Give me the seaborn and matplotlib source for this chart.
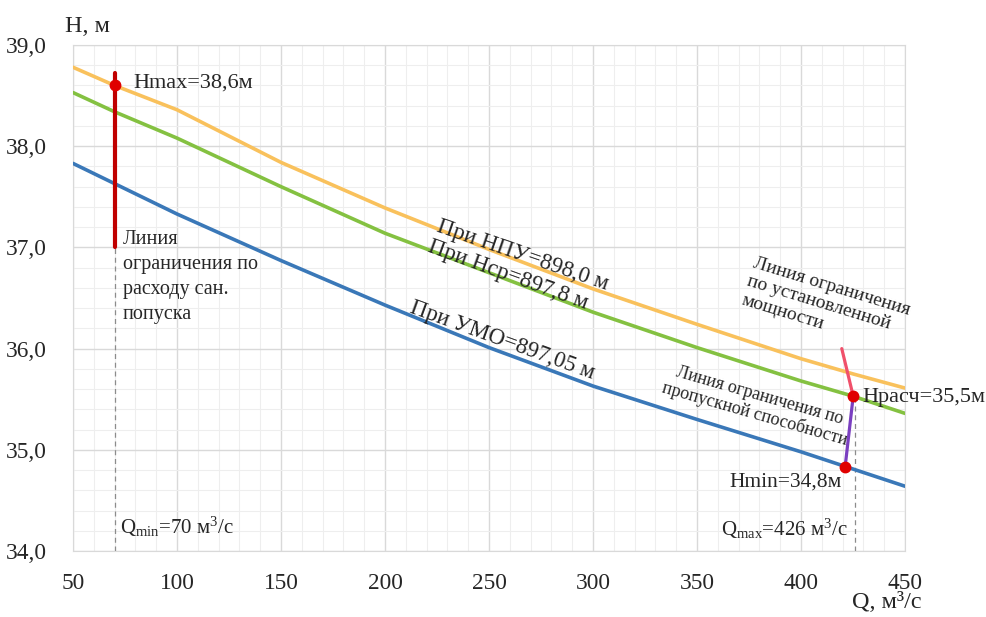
import numpy as np
import pandas as pd
import matplotlib
matplotlib.use("Agg")
import matplotlib.pyplot as plt
from matplotlib.ticker import MultipleLocator, FixedLocator
import seaborn as sns

# ---- data ----
q_points = [50, 70, 100, 150, 200, 250, 300, 350, 400, 425, 450]
h_npu = [38.78, 38.60, 38.36, 37.84, 37.39, 36.98, 36.59, 36.24, 35.90, 35.75, 35.61]
h_sr = [38.53, 38.34, 38.08, 37.60, 37.14, 36.75, 36.36, 36.01, 35.68, 35.53, 35.36]
h_umo = [37.83, 37.63, 37.33, 36.87, 36.43, 36.01, 35.63, 35.30, 34.98, 34.81, 34.64]
series_names = ["При НПУ=898,0 м", "При Нср=897,8 м", "При УМО=897,05 м"]
series_colors = ["#F9C15C", "#84C141", "#3A78B8"]

q_min = 70
h_max = 38.6
san_line_top = 38.72
san_line_bottom = 37.0
q_max = 426
h_calc = 35.53
h_min = 34.8
q_hmin = 421.2
power_line_q = [419.6, 425.1]
power_line_h = [36.0, 35.53]

x_ticks = [50, 100, 150, 200, 250, 300, 350, 400, 450]
y_ticks = [34.0, 35.0, 36.0, 37.0, 38.0, 39.0]
y_tick_labels = ["34,0", "35,0", "36,0", "37,0", "38,0", "39,0"]

# ---- style ----
sns.set_style("white")
plt.rcParams["font.family"] = ["Liberation Serif", "DejaVu Serif"]
plt.rcParams["mathtext.fontset"] = "custom"
plt.rcParams["mathtext.rm"] = "Liberation Serif"
plt.rcParams["mathtext.it"] = "Liberation Serif:italic"

df = pd.DataFrame({
    "Q": q_points * 3,
    "H": h_npu + h_sr + h_umo,
    "series": sum([[n] * len(q_points) for n in series_names], []),
})

fig = plt.figure(figsize=(9.86, 6.17), dpi=100)
ax = fig.add_axes([73 / 986, 66 / 617, 832 / 986, 506 / 617])

sns.lineplot(data=df, x="Q", y="H", hue="series", palette=series_colors,
             hue_order=series_names, linewidth=2.6, legend=False, ax=ax, zorder=3)
for ln in ax.lines:
    ln.set_solid_joinstyle("round")

ax.set_xlim(50, 450)
ax.set_ylim(34, 39)
ax.xaxis.set_major_locator(FixedLocator(x_ticks))
ax.yaxis.set_major_locator(FixedLocator(y_ticks))
ax.set_yticklabels(y_tick_labels)
ax.xaxis.set_minor_locator(MultipleLocator(10))
ax.yaxis.set_minor_locator(MultipleLocator(0.2))
ax.grid(True, which="major", color="#D9D9D9", linewidth=1.0, zorder=0)
ax.grid(True, which="minor", color="#EEEEEE", linewidth=0.8, zorder=0)
ax.set_axisbelow(True)
ax.tick_params(which="both", length=0, labelsize=16.8)
ax.tick_params(axis="x", pad=16)
ax.tick_params(axis="y", pad=19)
for s in ax.spines.values():
    s.set_color("#D9D9D9")
ax.set_xlabel("")
ax.set_ylabel("")

# sanitary release restriction line
ax.plot([q_min, q_min], [san_line_bottom, san_line_top], color="#C00000", lw=3.0, zorder=4)
ax.plot([q_min, q_min], [34, san_line_bottom], color="#8C8C8C", lw=0.9, ls=(0, (4, 3)), zorder=2)
ax.plot([q_min], [h_max], marker="o", ms=7.5, color="#E00000", zorder=5)

# Qmax dashed line
ax.plot([q_max, q_max], [34, h_calc], color="#8C8C8C", lw=0.9, ls=(0, (4, 3)), zorder=2)
# installed power line
ax.plot(power_line_q, power_line_h, color="#F0506A", lw=2.3, zorder=4)
# throughput line
ax.plot([power_line_q[1], q_hmin], [h_calc, h_min + 0.03], color="#7A3FC0", lw=2.3, zorder=4)
ax.plot([power_line_q[1]], [h_calc], marker="o", ms=7.5, color="#E00000", zorder=5)
ax.plot([q_hmin], [h_min + 0.03], marker="o", ms=7.5, color="#E00000", zorder=5)

# texts
ax.text(78.8, 38.62, "Hmax=38,6м", fontsize=16, ha="left", va="center")
ax.text(74.0, 37.17, "Линия\nограничения по\nрасходу сан.\nпопуска", fontsize=14.5,
        ha="left", va="top", linespacing=1.42)
ax.text(266.3, 36.92, series_names[0], fontsize=16.5, rotation=-19,
        rotation_mode="anchor", ha="center", va="center")
ax.text(259.1, 36.73, series_names[1], fontsize=16.5, rotation=-20,
        rotation_mode="anchor", ha="center", va="center")
ax.text(256.3, 36.08, series_names[2], fontsize=16.5, rotation=-20,
        rotation_mode="anchor", ha="center", va="center")
ax.text(412.0, 36.43, "Линия ограничения\nпо установленной\nмощности", fontsize=14,
        rotation=-17, rotation_mode="anchor", ha="center", va="center",
        multialignment="left", linespacing=1.2)
ax.text(378.8, 35.445, "Линия ограничения по\nпропускной способности", fontsize=13,
        rotation=-16, rotation_mode="anchor", ha="center", va="center",
        multialignment="center", linespacing=1.1)
ax.text(429.3, 35.515, "Hрасч=35,5м", fontsize=16, ha="left", va="center")
ax.text(419.7, 34.68, "Hmin=34,8м", fontsize=15.5, ha="right", va="center")
ax.text(72.6, 34.24, "Q$_{\\mathrm{min}}$=70 м$^{3}$/с", fontsize=15, ha="left", va="center")
ax.text(422.6, 34.22, "Q$_{\\mathrm{max}}$=426 м$^{3}$/с", fontsize=15, ha="right", va="center")

fig.text(65 / 986, 1 - 27 / 617, "H, м", fontsize=17.5, ha="left", va="center")
fig.text(922 / 986, 1 - 603 / 617, "Q, м³/с", fontsize=17.5, ha="right", va="center")

fig.savefig("out.png", dpi=100)
